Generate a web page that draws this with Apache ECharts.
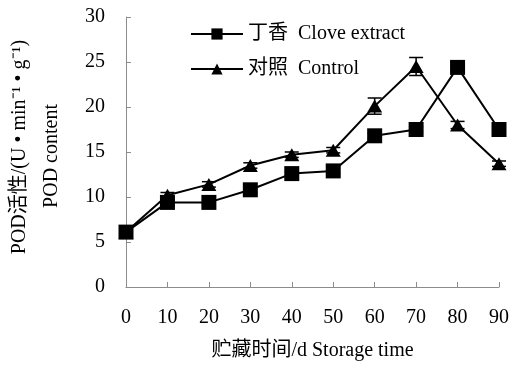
<!DOCTYPE html>
<html>
<head>
<meta charset="utf-8">
<script src="https://cdn.jsdelivr.net/npm/echarts@6/dist/echarts.min.js"></script>
<style>
  html, body { margin: 0; padding: 0; background: #fff; }
  #chart { width: 512px; height: 366px; }
</style>
</head>
<body>
<div id="chart"></div>
<script>
// Storage days and POD activity for the two treatments
const days = ['0', '10', '20', '30', '40', '50', '60', '70', '80', '90'];
const clove = [6.1, 9.4, 9.4, 10.8, 12.6, 12.9, 16.8, 17.5, 24.4, 17.5];
const control = [6.1, 10.2, 11.4, 13.5, 14.7, 15.2, 20.1, 24.5, 18.0, 13.7];
// Standard deviations shown as error bars
const cloveErr = [0.3, 0.3, 0.3, 0.3, 0.3, 0.3, 0.3, 0.3, 0.3, 0.3];
const controlErr = [0.2, 0.3, 0.3, 0.3, 0.3, 0.3, 0.9, 1.0, 0.4, 0.3];
const yTicks = [0, 5, 10, 15, 20, 25, 30];

const FONT = '"Liberation Serif", "Times New Roman", "Noto Sans CJK SC", serif';
const AXIS_GRAY = '#8c8c8c';
const FS = 20;

function errorSeries(values, errs) {
  return {
    type: 'custom',
    z: 1,
    silent: true,
    data: values.map((v, i) => [i, v - errs[i], v + errs[i]]),
    renderItem: function (params, api) {
      const x = api.coord([api.value(0), api.value(1)])[0];
      const lo = api.coord([api.value(0), api.value(1)])[1];
      const hi = api.coord([api.value(0), api.value(2)])[1];
      const w = 7;
      const st = { stroke: '#000', lineWidth: 1.5 };
      return {
        type: 'group',
        children: [
          { type: 'line', shape: { x1: x, y1: lo, x2: x, y2: hi }, style: st },
          { type: 'line', shape: { x1: x - w, y1: hi, x2: x + w, y2: hi }, style: st },
          { type: 'line', shape: { x1: x - w, y1: lo, x2: x + w, y2: lo }, style: st }
        ]
      };
    }
  };
}

const chart = echarts.init(document.getElementById('chart'), null, { renderer: 'canvas' });
chart.setOption({
  animation: false,
  backgroundColor: '#fff',
  textStyle: { fontFamily: FONT },
  grid: { left: 126, right: 10, top: 17, bottom: 79 },
  legend: {
    orient: 'vertical',
    left: 185,
    top: 19,
    itemWidth: 52,
    itemHeight: 14,
    itemGap: 15,
    textStyle: { fontFamily: FONT, fontSize: FS, color: '#000' },
    data: ['丁香  Clove extract', '对照  Control']
  },
  xAxis: {
    type: 'category',
    data: days,
    boundaryGap: false,
    axisLine: { lineStyle: { color: AXIS_GRAY, width: 1 } },
    axisTick: { inside: true, length: 5, lineStyle: { color: AXIS_GRAY } },
    axisLabel: { color: '#000', fontSize: FS, fontFamily: FONT, margin: 21 },
    name: '贮藏时间/d Storage time',
    nameLocation: 'middle',
    nameGap: 54,
    nameTextStyle: { color: '#000', fontSize: FS, fontFamily: FONT }
  },
  yAxis: {
    type: 'value',
    min: yTicks[0],
    max: yTicks[yTicks.length - 1],
    interval: 5,
    splitLine: { show: false },
    axisLine: { show: true, lineStyle: { color: AXIS_GRAY, width: 1 } },
    axisTick: { show: true, inside: true, length: 5, lineStyle: { color: AXIS_GRAY } },
    axisLabel: { color: '#000', fontSize: FS, fontFamily: FONT, margin: 21 }
  },
  graphic: [
    {
      type: 'text',
      x: 20, y: 147,
      rotation: Math.PI / 2,
      style: {
        text: 'POD活性/(U • min⁻¹ • g⁻¹)',
        fontFamily: FONT, fontSize: FS, fill: '#000',
        align: 'center', verticalAlign: 'middle'
      }
    },
    {
      type: 'text',
      x: 52, y: 156,
      rotation: Math.PI / 2,
      style: {
        text: 'POD content',
        fontFamily: FONT, fontSize: FS, fill: '#000',
        align: 'center', verticalAlign: 'middle'
      }
    }
  ],
  series: [
    errorSeries(control, controlErr),
    errorSeries(clove, cloveErr),
    {
      name: '对照  Control',
      type: 'line',
      data: control,
      symbol: 'triangle',
      symbolSize: [15, 13],
      z: 3,
      lineStyle: { color: '#000', width: 2 },
      itemStyle: { color: '#000' }
    },
    {
      name: '丁香  Clove extract',
      type: 'line',
      data: clove,
      symbol: 'rect',
      symbolSize: 15,
      z: 4,
      lineStyle: { color: '#000', width: 2 },
      itemStyle: { color: '#000' }
    }
  ]
});
</script>
</body>
</html>
